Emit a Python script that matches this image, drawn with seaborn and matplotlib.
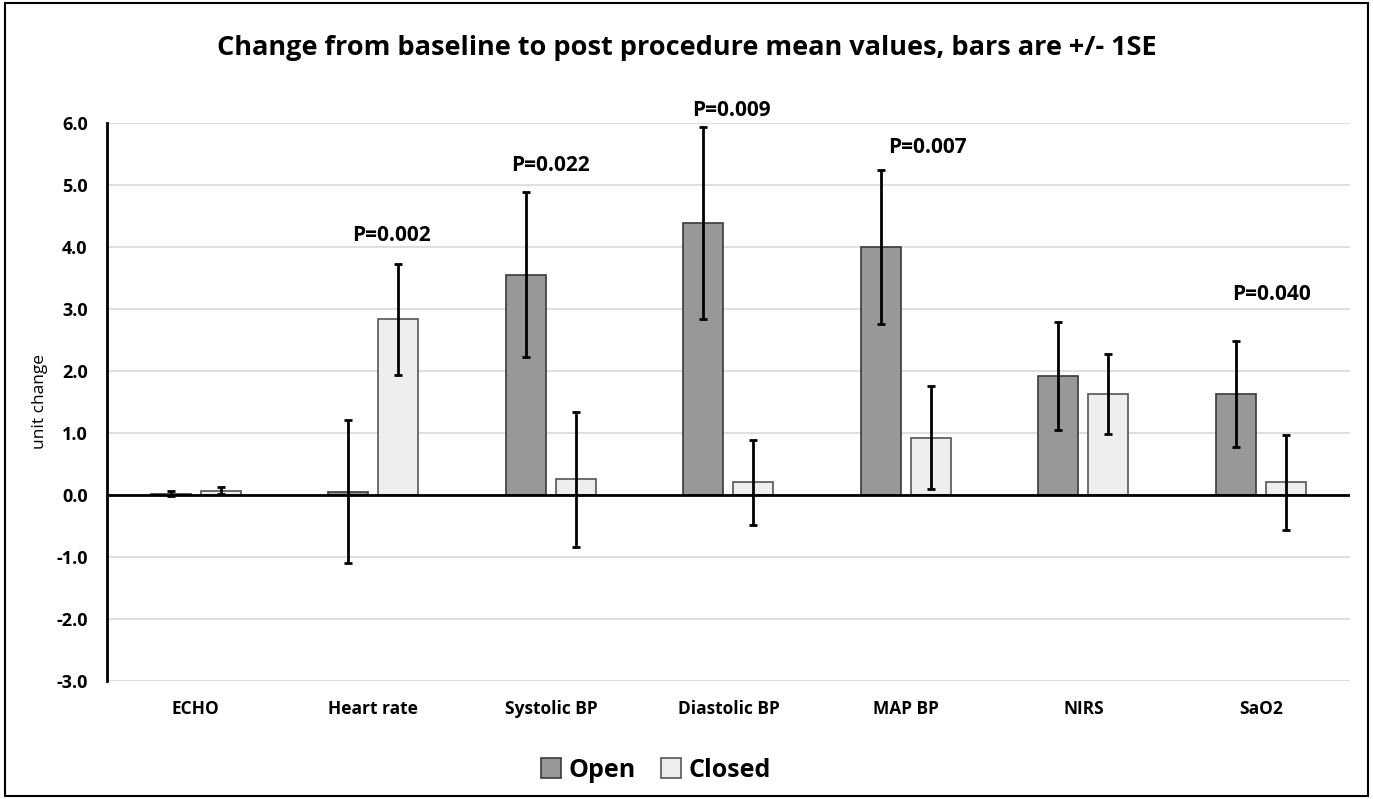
import pandas as pd
import numpy as np
import matplotlib
matplotlib.use("Agg")
import matplotlib.pyplot as plt
import seaborn as sns
from matplotlib.patches import Rectangle, Patch

# ============================================================
# DATA
# ============================================================

categories = ["ECHO", "Heart rate", "Systolic BP", "Diastolic BP",
              "MAP BP", "NIRS", "SaO2"]
groups = ["Open", "Closed"]

open_mean = [0.02, 0.05, 3.55, 4.38, 4.00, 1.92, 1.63]
open_se = [0.04, 1.15, 1.33, 1.55, 1.25, 0.87, 0.86]

closed_mean = [0.07, 2.83, 0.25, 0.20, 0.92, 1.63, 0.20]
closed_se = [0.05, 0.90, 1.09, 0.69, 0.83, 0.65, 0.76]

# p-value annotations (label, category, shift in category units, height)
p_labels = ["P=0.002", "P=0.022", "P=0.009", "P=0.007", "P=0.040"]
p_category = ["Heart rate", "Systolic BP", "Diastolic BP", "MAP BP", "SaO2"]
p_shift = [0.10, 0.0, 0.02, 0.12, 0.06]
p_y = [4.19, 5.32, 6.20, 5.60, 3.23]

title = "Change from baseline to post procedure mean values, bars are +/- 1SE"

colors = {"Open": "#989898", "Closed": "#eeeeee"}
edges = {"Open": "#3a3a3a", "Closed": "#555555"}

# ============================================================
# TABLE
# ============================================================

df = pd.DataFrame({
    "category": categories * 2,
    "group": ["Open"] * len(categories) + ["Closed"] * len(categories),
    "value": open_mean + closed_mean,
    "se": open_se + closed_se,
})

# ============================================================
# PLOT
# ============================================================

sns.set_style("white")
plt.rcParams["font.family"] = ["Open Sans", "DejaVu Sans"]
plt.rcParams["text.color"] = "black"
plt.rcParams["axes.labelcolor"] = "black"
plt.rcParams["xtick.color"] = "black"
plt.rcParams["ytick.color"] = "black"

fig = plt.figure(figsize=(13.73, 7.99), dpi=100)
ax = fig.add_axes([0.078, 0.148, 0.905, 0.698])

sns.barplot(
    data=df,
    x="category",
    y="value",
    hue="group",
    order=categories,
    hue_order=groups,
    palette=colors,
    width=0.564,
    gap=0.2,
    errorbar=None,
    legend=False,
    ax=ax,
)

# bar edges + error bars from the drawn patches
bars = ax.patches
for i, patch in enumerate(bars):
    grp = groups[i // len(categories)]
    patch.set_edgecolor(edges[grp])
    patch.set_linewidth(1.2)
    row = df.iloc[i]
    cx = patch.get_x() + patch.get_width() / 2
    ax.errorbar(cx, row["value"], yerr=row["se"], fmt="none",
                ecolor="black", elinewidth=2, capsize=3, capthick=2,
                zorder=5)

# p-value labels
for lab, cat, dx, yy in zip(p_labels, p_category, p_shift, p_y):
    xi = categories.index(cat)
    ax.text(xi + dx, yy, lab, ha="center", va="center",
            fontsize=15, fontweight="bold", color="black")

ax.set_ylim(-3.0, 6.0)
ax.set_xlim(-0.5, len(categories) - 0.5)
ax.set_yticks(np.arange(-3, 6.1, 1.0))
ax.set_yticklabels([f"{v:.1f}" for v in np.arange(-3, 6.1, 1.0)],
                   fontsize=13, fontweight="bold")
ax.set_xticks(range(len(categories)))
ax.set_xticklabels(categories, fontsize=12.5, fontweight="bold")
ax.tick_params(axis="y", length=0, pad=14)
ax.tick_params(axis="x", length=0, pad=14)

ax.yaxis.grid(True, color="#d9d9d9", linewidth=1.2)
ax.set_axisbelow(True)
ax.axhline(0, color="black", linewidth=2, zorder=4)

for s in ["top", "right", "bottom"]:
    ax.spines[s].set_visible(False)
ax.spines["left"].set_color("black")
ax.spines["left"].set_linewidth(2)

ax.set_xlabel("")
ax.set_ylabel("unit change", fontsize=12.5, labelpad=6)

fig.text(0.5, 0.94, title, ha="center", va="center",
         fontsize=19.5, fontweight="bold", color="black")

handles = [Patch(facecolor=colors[g], edgecolor=edges[g], linewidth=1.2)
           for g in groups]
fig.legend(handles, groups, loc="center", bbox_to_anchor=(0.478, 0.036),
           ncol=2, frameon=False, handlelength=0.8, handleheight=0.8,
           handletextpad=0.3, columnspacing=1.0,
           prop={"size": 18, "weight": "bold"})

# outer border
fig.patches.append(Rectangle((0.004, 0.004), 0.992, 0.992,
                             transform=fig.transFigure, fill=False,
                             edgecolor="black", linewidth=1.5))

fig.savefig("out.png", dpi=100)
